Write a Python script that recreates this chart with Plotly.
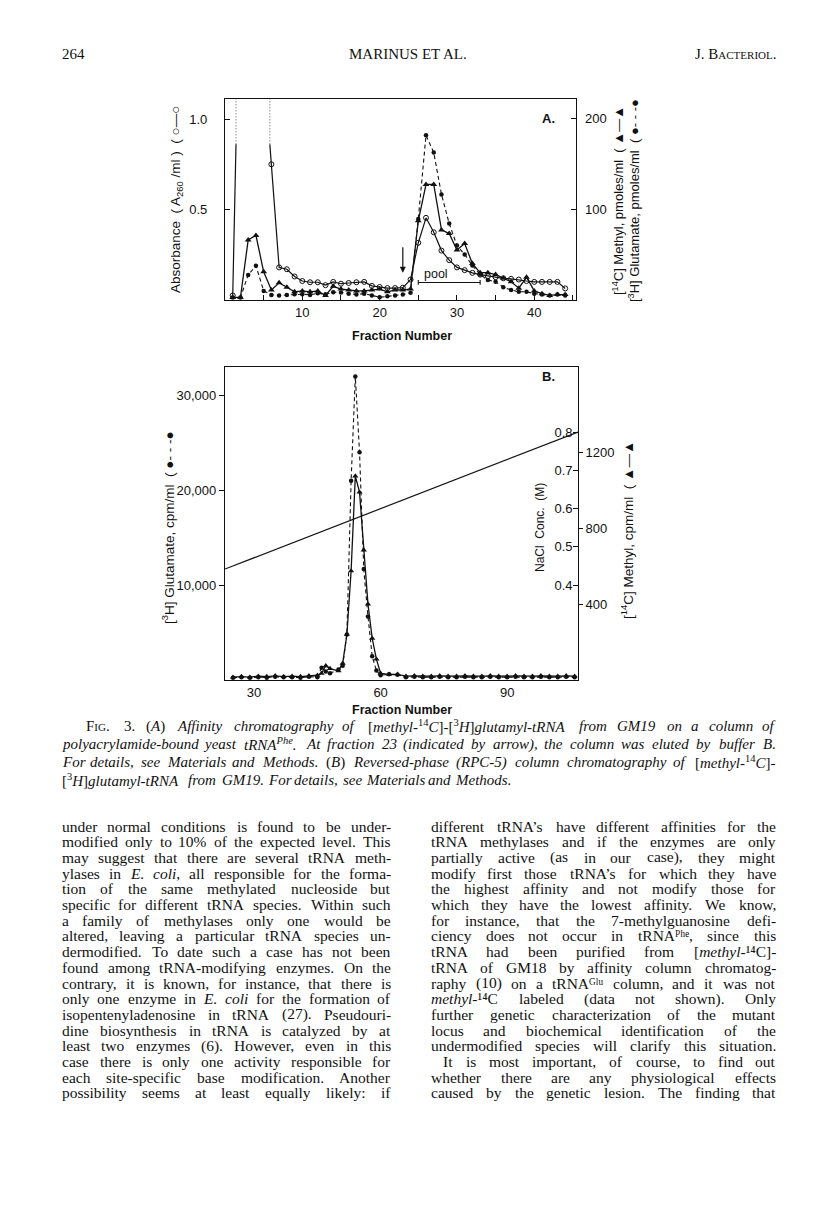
import re
import plotly.graph_objects as go

# ---------------- data ----------------
# (A) affinity column, fractions 1..44
frac_a = list(range(1, 45))
# A260/ml, open circles (fractions 2-5 run off the top of the panel)
a260 = [0.025, 2.0, 2.0, 2.0, 1.3, 0.75, 0.18, 0.17, 0.13, 0.105,
        0.098, 0.098, 0.082, 0.10, 0.09, 0.094, 0.098, 0.10, 0.078, 0.072,
        0.066, 0.066, 0.068, 0.113, 0.316, 0.454, 0.374, 0.273, 0.22, 0.18,
        0.165, 0.15, 0.14, 0.132, 0.126, 0.12, 0.117, 0.113, 0.105, 0.10,
        0.10, 0.10, 0.10, 0.064]
a260_dotted_above = 0.86   # off-scale parts are drawn dotted above this level
# [14C] methyl, pmoles/ml, triangles
methyl_pmol = [2.8, 2.8, 66, 71, 31, 11, 19, 14, 9, 10,
               9, 10, 5, 15, 12, 11, 10, 10, 11, 12,
               9, 11, 11, 12, 87, 127, 127, 77, 73, 55,
               62, 40, 30, 30, 28, 24, 20, 13, 25, 10,
               7, 5, 6, 6]
# [3H] glutamate, pmoles/ml, dashed
glu_pmol = [2.8, 2.8, 27.6, 37.6, 10, 5.6, 5, 5.6, 6.4, 6.4,
            5.6, 7.4, 6.4, 8.6, 8.2, 7, 6, 7, 5, 3,
            4, 5, 6, 8, 89, 181, 162, 116, 84, 60,
            50, 38, 28, 22, 20, 14, 11, 9, 9, 7,
            6, 5, 6, 5]
arrow_frac = 23
pool_start, pool_end = 25, 33

# (B) RPC-5 column
frac_b = ([25, 27, 29, 31, 33, 35, 37, 39, 41, 43, 45, 46, 47, 48, 50, 51,
           52, 53, 54, 55, 56, 57, 58, 59, 60] + list(range(62, 107, 2)))
glu_cpm = ([250, 300, 250, 300, 250, 350, 300, 300, 250, 350, 300, 1300, 900, 700,
            1100, 1500, 4800, 21000, 32000, 24000, 11700, 6700, 2500, 1000, 500]
           + [600, 550, 300, 350, 300, 300, 350, 300, 300, 350, 300, 300,
              350, 300, 300, 350, 300, 300, 350, 300, 300, 350, 300])
methyl_cpm = ([15, 18, 15, 20, 18, 22, 18, 20, 18, 22, 25, 35, 75, 60,
               48, 88, 240, 575, 1075, 990, 685, 400, 220, 110, 35]
              + [30, 30, 20, 22, 20, 20, 22, 20, 20, 22, 20, 20,
                 22, 20, 20, 22, 20, 20, 22, 20, 20, 22, 20])
nacl_frac = [23.1, 106.8]
nacl_conc = [0.442, 0.80]

a_xticks = [10, 20, 30, 40]
a_xminor = [5, 15, 25, 35, 45]
b_xticks = [30, 60, 90]
b_yticks = [10000, 20000, 30000]
b_ylabels = ['10,000', '20,000', '30,000']
nacl_ticks = [0.4, 0.5, 0.6, 0.7, 0.8]
methyl_cpm_ticks = [400, 800, 1200]

# ---------------- page text ----------------
caption = [
    "F<span style='font-size:11px'>IG</span>. 3. (<i>A</i>) <i>Affinity</i> <i>chromatography</i> <i>of</i> "
    "[<i>methyl-</i><sup>14</sup><i>C</i>]-[<sup>3</sup><i>H</i>]<i>glutamyl-tRNA</i> <i>from</i> <i>GM19</i> "
    "<i>on</i> <i>a</i> <i>column</i> <i>of</i>",
    "<i>polyacrylamide-bound</i> <i>yeast</i> <i>tRNA<sup>Phe</sup>.</i> <i>At</i> <i>fraction</i> <i>23</i> "
    "<i>(indicated</i> <i>by</i> <i>arrow),</i> <i>the</i> <i>column</i> <i>was</i> <i>eluted</i> <i>by</i> "
    "<i>buffer</i> <i>B.</i>",
    "<i>For</i> <i>details,</i> <i>see</i> <i>Materials</i> <i>and</i> <i>Methods.</i> (<i>B</i>) "
    "<i>Reversed-phase</i> <i>(RPC-5)</i> <i>column</i> <i>chromatography</i> <i>of</i> "
    "[<i>methyl-</i><sup>14</sup><i>C</i>]-",
    "[<sup>3</sup><i>H</i>]<i>glutamyl-tRNA</i> <i>from</i> <i>GM19.</i> <i>For</i> <i>details,</i> "
    "<i>see</i> <i>Materials</i> <i>and</i> <i>Methods.</i>",
]
left_col = [
    "under normal conditions is found to be under-",
    "modified only to 10% of the expected level. This",
    "may suggest that there are several tRNA meth-",
    "ylases in <i>E.</i> <i>coli</i>, all responsible for the forma-",
    "tion of the same methylated nucleoside but",
    "specific for different tRNA species. Within such",
    "a family of methylases only one would be",
    "altered, leaving a particular tRNA species un-",
    "dermodified. To date such a case has not been",
    "found among tRNA-modifying enzymes. On the",
    "contrary, it is known, for instance, that there is",
    "only one enzyme in <i>E.</i> <i>coli</i> for the formation of",
    "isopentenyladenosine in tRNA (27). Pseudouri-",
    "dine biosynthesis in tRNA is catalyzed by at",
    "least two enzymes (6). However, even in this",
    "case there is only one activity responsible for",
    "each site-specific base modification. Another",
    "possibility seems at least equally likely: if",
]
right_col = [
    "different tRNA\u2019s have different affinities for the",
    "tRNA methylases and if the enzymes are only",
    "partially active (as in our case), they might",
    "modify first those tRNA\u2019s for which they have",
    "the highest affinity and not modify those for",
    "which they have the lowest affinity. We know,",
    "for instance, that the 7-methylguanosine defi-",
    "ciency does not occur in tRNA\u1d3e\u02b0\u1d49, since this",
    "tRNA had been purified from [<i>methyl</i>-\u00b9\u2074C]-",
    "tRNA of GM18 by affinity column chromatog-",
    "raphy (10) on a tRNA\u1d33\u02e1\u1d58 column, and it was not",
    "<i>methyl</i>-\u00b9\u2074C labeled (data not shown). Only",
    "further genetic characterization of the mutant",
    "locus and biochemical identification of the",
    "undermodified species will clarify this situation.",
    "It is most important, of course, to find out",
    "whether there are any physiological effects",
    "caused by the genetic lesion. The finding that",
]

# ---------------- helpers ----------------
# the page body keeps its 8px margin, so the figure is drawn 8px in from the corner
PAGE_W, PAGE_H, M = 816, 1223, 8
W, H = PAGE_W - 2 * M, PAGE_H - 2 * M
INK = '#111111'
SERIF = 'Liberation Serif'
SANS = 'Liberation Sans'


def px(x):
    return (x - M) / W


def py(y):
    return 1 - (y - M) / H


# Times widths (1/1000 em) for justifying lines word by word
_w = {' ': 250, '%': 833, "'": 180, '\u2019': 333, '(': 333, ')': 333, ',': 250, '-': 333,
      '.': 250, ':': 278, ';': 278, '[': 333, ']': 333,
      '\u00b9': 300, '\u2074': 300, '\u1d3e': 350, '\u02b0': 300, '\u1d49': 280,
      '\u1d33': 380, '\u02e1': 180, '\u1d58': 300}
_w.update({c: 500 for c in '0123456789'})
_w.update(dict(zip('ABCDEFGHIJKLMNOPQRSTUVWXYZ',
                   [722, 667, 667, 722, 611, 556, 722, 722, 333, 389, 722, 611, 889,
                    722, 722, 556, 722, 667, 556, 611, 722, 722, 944, 722, 722, 611])))
_w.update(dict(zip('abcdefghijklmnopqrstuvwxyz',
                   [444, 500, 444, 500, 444, 333, 500, 500, 278, 278, 500, 278, 778,
                    500, 500, 500, 500, 333, 389, 278, 500, 500, 722, 500, 500, 444])))


def text_width(s, size):
    tot = 0
    for part in re.split(r'(<sup>.*?</sup>)', s):
        k = 0.7 if part.startswith('<sup>') else 1.0
        plain = re.sub(r'<[^>]+>', '', part)
        tot += k * sum(_w.get(c, 500) for c in plain)
    return tot * size / 1000


def add_line(fig, line, x0, x1, y, size, justify=True, family=SERIF):
    words = re.split(r' (?![^<>]*>)', line)   # spaces outside tags
    widths = [text_width(w, size) for w in words]
    if justify and len(words) > 1:
        gap = (x1 - x0 - sum(widths)) / (len(words) - 1)
    else:
        gap = 330 * size / 1000
    x = x0
    for i, (w, wd) in enumerate(zip(words, widths)):
        if i == 0:
            xa, anchor = x, 'left'
        elif i == len(words) - 1 and justify:
            xa, anchor = x1, 'right'
        else:
            xa, anchor = x + wd / 2, 'center'
        fig.add_annotation(x=px(xa), y=py(y), xref='paper', yref='paper', text=w,
                           xanchor=anchor, yanchor='middle', showarrow=False,
                           borderpad=0, borderwidth=0,
                           font=dict(family=family, size=size, color=INK))
        x += wd + gap


def label(fig, x, y, text, size=12, angle=0, bold=False, anchor='center'):
    fig.add_annotation(x=px(x), y=py(y), xref='paper', yref='paper',
                       text='<b>%s</b>' % text if bold else text, textangle=angle,
                       xanchor=anchor, yanchor='middle', showarrow=False,
                       font=dict(family=SANS, size=size, color=INK))


# panel A geometry in page pixels: frame top/bottom and where 1.0 / 200 sit
A_TOP, A_BOT, A_ONE, A_200 = 99, 300, 119, 118
a_left_top = (A_BOT - A_TOP) / (A_BOT - A_ONE)
a_right_top = 200 * (A_BOT - A_TOP) / (A_BOT - A_200)

# split the absorbance curve: solid on scale, dotted verticals where it leaves the panel
solid_x, solid_y, dot_x, dot_y = [], [], [], []
clip = a260_dotted_above
prev = None
for f, v in zip(frac_a, a260):
    if prev is not None and (prev[1] <= clip) != (v <= clip):
        xc = prev[0] + (clip - prev[1]) / (v - prev[1]) * (f - prev[0])
        solid_x.append(xc)
        solid_y.append(clip)
        dot_x += [xc, xc, None]
        dot_y += [clip, a_left_top, None]
        if v > clip:
            solid_x.append(None)
            solid_y.append(None)
    if v <= clip:
        solid_x.append(f)
        solid_y.append(v)
    prev = (f, v)
on_scale = [(f, v) for f, v in zip(frac_a, a260) if v <= clip]

# ---------------- figure ----------------
fig = go.Figure()

# panel A
fig.add_trace(go.Scatter(x=solid_x, y=solid_y, xaxis='x', yaxis='y', mode='lines',
                         line=dict(color=INK, width=1.2)))
fig.add_trace(go.Scatter(x=dot_x, y=dot_y, xaxis='x', yaxis='y', mode='lines',
                         line=dict(color='#555555', width=1, dash='1px,2px')))
fig.add_trace(go.Scatter(x=[p[0] for p in on_scale], y=[p[1] for p in on_scale],
                         xaxis='x', yaxis='y', mode='markers',
                         marker=dict(symbol='circle-open', size=5, color=INK, line=dict(width=1))))
fig.add_trace(go.Scatter(x=frac_a, y=methyl_pmol, xaxis='x', yaxis='y2', mode='lines+markers',
                         line=dict(color=INK, width=1.3),
                         marker=dict(symbol='triangle-up', size=6, color=INK)))
fig.add_trace(go.Scatter(x=frac_a, y=glu_pmol, xaxis='x', yaxis='y2', mode='lines+markers',
                         line=dict(color=INK, width=1.1, dash='4px,3px'),
                         marker=dict(symbol='circle', size=4.5, color=INK)))

# panel B
fig.add_trace(go.Scatter(x=nacl_frac, y=nacl_conc, xaxis='x2', yaxis='y4', mode='lines',
                         line=dict(color=INK, width=1.2)))
fig.add_trace(go.Scatter(x=frac_b, y=glu_cpm, xaxis='x2', yaxis='y3', mode='lines+markers',
                         line=dict(color=INK, width=1.1, dash='4px,3px'),
                         marker=dict(symbol='circle', size=4.5, color=INK)))
fig.add_trace(go.Scatter(x=frac_b, y=methyl_cpm, xaxis='x2', yaxis='y5', mode='lines+markers',
                         line=dict(color=INK, width=1.3),
                         marker=dict(symbol='triangle-up', size=5.5, color=INK)))

tickfont = dict(family=SANS, size=13, color=INK)
frame = dict(showline=True, linecolor=INK, linewidth=1.2, showgrid=False, zeroline=False,
             tickcolor=INK, tickfont=tickfont)

fig.update_layout(
    width=W, height=H, margin=dict(l=0, r=0, t=0, b=0),
    paper_bgcolor='white', plot_bgcolor='white', showlegend=False,
    xaxis=dict(frame, domain=[px(225), px(576)], range=[0, 45.4], anchor='y', mirror=True,
               ticks='inside', ticklen=5, tickvals=a_xticks,
               minor=dict(tickvals=a_xminor, ticks='inside', ticklen=5, tickcolor=INK)),
    yaxis=dict(frame, domain=[py(A_BOT), py(A_TOP)], range=[0, a_left_top], anchor='x', mirror=True,
               ticks='inside', ticklen=5, tickvals=[0.5, 1.0], ticktext=['0.5', '1.0'],
               ticklabelstandoff=14),
    yaxis2=dict(frame, overlaying='y', side='right', anchor='x', range=[0, a_right_top],
                showline=False, ticks='inside', ticklen=5, tickvals=[100, 200],
                ticklabelstandoff=8),
    xaxis2=dict(frame, domain=[px(225), px(578)], range=[23.1, 106.8], anchor='y3', mirror=True,
                ticks='', tickvals=b_xticks),
    yaxis3=dict(frame, domain=[py(680), py(367)], range=[0, 33000], anchor='x2', mirror=True,
                ticks='outside', ticklen=5, tickvals=b_yticks, ticktext=b_ylabels),
    yaxis4=dict(frame, overlaying='y3', side='right', anchor='x2', range=[0.152, 0.970],
                showline=False, ticks='inside', ticklen=5, ticklabelposition='inside',
                tickvals=nacl_ticks, ticktext=['%.1f' % v for v in nacl_ticks]),
    yaxis5=dict(frame, overlaying='y3', side='right', anchor='x2', range=[0, 1650],
                showline=False, ticks='outside', ticklen=4, tickvals=methyl_cpm_ticks),
)

# pool bracket and elution arrow (panel A)
pool_y = 0.097
fig.add_shape(type='line', xref='x', yref='y', x0=pool_start, x1=pool_end, y0=pool_y, y1=pool_y,
              line=dict(color=INK, width=1.1))
for xe in (pool_start, pool_end):
    fig.add_shape(type='line', xref='x', yref='y', x0=xe, x1=xe, y0=pool_y - 0.013, y1=pool_y + 0.013,
                  line=dict(color=INK, width=1.1))
fig.add_annotation(x=pool_start + 2.3, y=pool_y + 0.045, xref='x', yref='y',
                   text='pool', showarrow=False, font=dict(family=SANS, size=12.5, color=INK))
fig.add_annotation(x=arrow_frac, y=0.15, xref='x', yref='y', text='', showarrow=True,
                   ax=0, ay=-27, arrowhead=2, arrowsize=1, arrowwidth=1.2, arrowcolor=INK)

# axis titles
label(fig, 177, 200, 'Absorbance  ( A<sub>260</sub> /ml )  ( \u25cb\u2014\u25cb', size=13.5, angle=-90)
label(fig, 618, 201, '[<sup>14</sup>C] Methyl, pmoles/ml  ( \u25b2\u2014\u25b2', size=13, angle=-90)
label(fig, 634, 201, '[<sup>3</sup>H] Glutamate, pmoles/ml  ( \u25cf- - -\u25cf', size=13, angle=-90)
label(fig, 402, 336, 'Fraction Number', size=12.5, bold=True)
label(fig, 548, 118, 'A.', size=13, bold=True)

label(fig, 168, 528, '[<sup>3</sup>H] Glutamate, cpm/ml  ( \u25cf- - -\u25cf', size=13.5, angle=-90)
label(fig, 540, 528, 'NaCl  Conc.  (M)', size=12, angle=-90)
label(fig, 627, 530, '[<sup>14</sup>C] Methyl, cpm/ml  ( \u25b2\u2014\u25b2', size=13.5, angle=-90)
label(fig, 402, 710, 'Fraction Number', size=12.5, bold=True)
label(fig, 548, 377, 'B.', size=13, bold=True)

# running head
for x, txt, anc in [(62, '264', 'left'), (408, 'MARINUS ET AL.', 'center'),
                    (776, "J. B<span style='font-size:11px'>ACTERIOL</span>.", 'right')]:
    fig.add_annotation(x=px(x), y=py(54), xref='paper', yref='paper', text=txt, xanchor=anc,
                       yanchor='middle', showarrow=False, borderpad=0, borderwidth=0,
                       font=dict(family=SERIF, size=15, color=INK))

# caption
cap_y = [726, 744, 762, 780]
cap_x0 = [86, 62, 62, 62]
for i, line in enumerate(caption):
    add_line(fig, line, cap_x0[i], 776, cap_y[i], 15, justify=(i < 3))

# body text, two justified columns
for i, line in enumerate(left_col):
    add_line(fig, line, 62, 391, 826 + 15.7 * i, 15.5)
for i, line in enumerate(right_col):
    x0 = 443 if i == 15 else 431
    add_line(fig, line, x0, 776, 826 + 15.7 * i, 15.5)

fig.write_html("out.html")
